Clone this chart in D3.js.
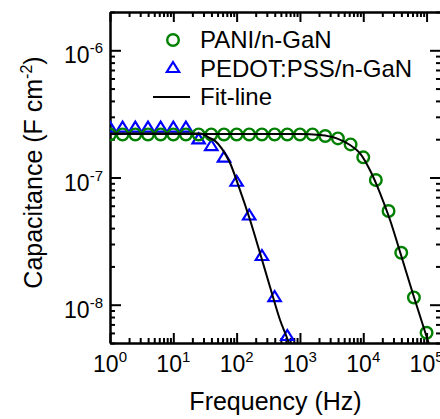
<!DOCTYPE html>
<html>
<head>
<meta charset="utf-8">
<script src="https://cdn.jsdelivr.net/npm/d3@7"></script>
<style>
  body { margin: 0; background: #fff; }
  svg { display: block; font-family: "Liberation Sans", Arial, sans-serif; }
</style>
</head>
<body>
<div id="chart"></div>
<script>
// PANI/n-GaN measured points
const paniFreq = [1, 1.58, 2.51, 3.98, 6.31, 10, 15.8, 25.1, 39.8, 63.1, 100, 158, 251, 398, 631,
                  1000, 1580, 2510, 3980, 6310, 10000, 15800, 25100, 39800, 63100, 100000];
const paniCap = [2.18e-7, 2.18e-7, 2.18e-7, 2.18e-7, 2.18e-7, 2.18e-7, 2.18e-7, 2.18e-7, 2.18e-7,
                 2.18e-7, 2.18e-7, 2.18e-7, 2.18e-7, 2.18e-7, 2.18e-7, 2.18e-7, 2.18e-7,
                 2.12e-7, 2.03e-7, 1.82e-7, 1.44e-7, 9.55e-8, 5.45e-8, 2.56e-8, 1.14e-8, 6.02e-9];

// PEDOT:PSS/n-GaN measured points
const pedotFreq = [1, 1.58, 2.51, 3.98, 6.31, 10, 15.8, 25.1, 39.8, 63.1, 100, 158, 251, 398, 631];
const pedotCap = [2.51e-7, 2.51e-7, 2.51e-7, 2.51e-7, 2.51e-7, 2.51e-7, 2.51e-7,
                  2.03e-7, 1.80e-7, 1.46e-7, 9.43e-8, 5.12e-8, 2.46e-8, 1.17e-8, 5.78e-9];

// fit lines
const fitPaniFreq = [1, 1000, 2080, 3810, 6180, 8900, 12800, 18400, 26500, 38100, 61200, 98200, 136000];
const fitPaniCap = [2.20e-7, 2.20e-7, 2.16e-7, 2.03e-7, 1.80e-7, 1.55e-7, 1.14e-7, 7.55e-8,
                    4.63e-8, 2.60e-8, 1.21e-8, 5.78e-9, 3.48e-9];
const fitPedotFreq = [1, 26.4, 31.6, 38, 45.6, 58.8, 78.7, 106, 163, 234, 337, 485, 656, 800];
const fitPedotCap = [2.22e-7, 2.22e-7, 2.15e-7, 2.04e-7, 1.94e-7, 1.68e-7, 1.30e-7, 8.72e-8,
                     4.63e-8, 2.55e-8, 1.38e-8, 7.58e-9, 5.12e-9, 3.67e-9];

const xMajor = [0, 1, 2, 3, 4, 5];
const yMajor = [-8, -7, -6];
const legendLabels = ["PANI/n-GaN", "PEDOT:PSS/n-GaN", "Fit-line"];

const svgWidth = 440, svgHeight = 419;
const margin = { top: 12, right: -1, bottom: 76, left: 110 };
const width = svgWidth - margin.left - margin.right;
const height = svgHeight - margin.top - margin.bottom;

const green = "#008000", blue = "#0000ff";

const svg = d3.select("#chart").append("svg")
    .attr("width", svgWidth)
    .attr("height", svgHeight);

const chart = svg.append("g")
    .attr("transform", `translate(${margin.left},${margin.top})`);

const x = d3.scaleLog().domain([1, 1.69e5]).range([0, width]);
const y = d3.scaleLog().domain([5e-9, 2e-6]).range([height, 0]);

// minor tick values
const xMinor = [];
xMajor.forEach(k => d3.range(2, 10).forEach(m => {
    const v = m * Math.pow(10, k);
    if (v <= x.domain()[1]) xMinor.push(v);
}));
const yMinor = [];
[-9, -8, -7, -6].forEach(k => d3.range(2, 10).forEach(m => {
    const v = m * Math.pow(10, k);
    if (v >= y.domain()[0] && v <= y.domain()[1]) yMinor.push(v);
}));
const xMajorVals = xMajor.map(k => Math.pow(10, k));
const yMajorVals = yMajor.map(k => Math.pow(10, k));

function styleAxis(g) {
    g.selectAll("path").attr("stroke", "#000").attr("stroke-width", 2);
    g.selectAll("line").attr("stroke", "#000").attr("stroke-width", 2);
    g.selectAll("text").remove();
}

// bottom / top
[[d3.axisBottom, height], [d3.axisTop, 0]].forEach(function([ax, ty]) {
    chart.append("g").attr("transform", `translate(0,${ty})`)
        .call(ax(x).tickValues(xMajorVals).tickSizeInner(-10).tickSizeOuter(0).tickFormat(""))
        .call(styleAxis);
    chart.append("g").attr("transform", `translate(0,${ty})`)
        .call(ax(x).tickValues(xMinor).tickSizeInner(-5).tickSizeOuter(0).tickFormat(""))
        .call(styleAxis);
});
// left / right
[[d3.axisLeft, 0], [d3.axisRight, width]].forEach(function([ax, tx]) {
    chart.append("g").attr("transform", `translate(${tx},0)`)
        .call(ax(y).tickValues(yMajorVals).tickSizeInner(-11).tickSizeOuter(0).tickFormat(""))
        .call(styleAxis);
    chart.append("g").attr("transform", `translate(${tx},0)`)
        .call(ax(y).tickValues(yMinor).tickSizeInner(-5).tickSizeOuter(0).tickFormat(""))
        .call(styleAxis);
});

// tick labels
xMajor.forEach(function(k) {
    const t = chart.append("text")
        .attr("x", x(Math.pow(10, k)))
        .attr("y", height + 29)
        .attr("text-anchor", "middle")
        .attr("font-size", "23px");
    t.append("tspan").text("10");
    t.append("tspan").attr("dy", -10).attr("font-size", "15px").text(k);
});
yMajor.forEach(function(k) {
    const t = chart.append("text")
        .attr("x", -7)
        .attr("y", y(Math.pow(10, k)) + 13)
        .attr("text-anchor", "end")
        .attr("font-size", "23px");
    t.append("tspan").text("10");
    t.append("tspan").attr("dy", -10).attr("font-size", "15px").text(k);
});

// axis titles
chart.append("text")
    .attr("x", width / 2)
    .attr("y", height + 67)
    .attr("text-anchor", "middle")
    .attr("font-size", "25px")
    .text("Frequency (Hz)");

const yt = chart.append("text")
    .attr("transform", "rotate(-90)")
    .attr("x", -(height / 2) + 5)
    .attr("y", -68)
    .attr("text-anchor", "middle")
    .attr("font-size", "25px");
yt.append("tspan").text("Capacitance (F cm");
yt.append("tspan").attr("dy", -10).attr("font-size", "16px").text("-2");
yt.append("tspan").attr("dy", 10).text(")");

// plot
chart.append("clipPath").attr("id", "clip")
    .append("rect").attr("width", width).attr("height", height);
const plot = chart.append("g").attr("clip-path", "url(#clip)");

function triPath(cx, cy) {
    const w = 6.2, h = 5;
    return `M${cx},${cy - h}L${cx + w},${cy + h}L${cx - w},${cy + h}Z`;
}

plot.selectAll(".tri")
    .data(pedotFreq.map((f, i) => [f, pedotCap[i]]))
    .join("path")
    .attr("d", d => triPath(x(d[0]), y(d[1])))
    .attr("fill", "none")
    .attr("stroke", blue)
    .attr("stroke-width", 2.2);

plot.selectAll(".circ")
    .data(paniFreq.map((f, i) => [f, paniCap[i]]))
    .join("circle")
    .attr("cx", d => x(d[0]))
    .attr("cy", d => y(d[1]))
    .attr("r", 5.8)
    .attr("fill", "none")
    .attr("stroke", green)
    .attr("stroke-width", 2.4);

const line = d3.line()
    .x(d => x(d[0]))
    .y(d => y(d[1]))
    .curve(d3.curveMonotoneX);

plot.append("path")
    .datum(fitPaniFreq.map((f, i) => [f, fitPaniCap[i]]))
    .attr("fill", "none").attr("stroke", "#000").attr("stroke-width", 2)
    .attr("d", line);
plot.append("path")
    .datum(fitPedotFreq.map((f, i) => [f, fitPedotCap[i]]))
    .attr("fill", "none").attr("stroke", "#000").attr("stroke-width", 2)
    .attr("d", line);

// legend
const lg = svg.append("g");
lg.append("circle").attr("cx", 173).attr("cy", 40).attr("r", 5.8)
    .attr("fill", "none").attr("stroke", green).attr("stroke-width", 2.4);
lg.append("path").attr("d", triPath(173, 67))
    .attr("fill", "none").attr("stroke", blue).attr("stroke-width", 2.2);
lg.append("line").attr("x1", 153).attr("x2", 190).attr("y1", 97).attr("y2", 97)
    .attr("stroke", "#000").attr("stroke-width", 2);
legendLabels.forEach(function(t, i) {
    lg.append("text")
        .attr("x", 200)
        .attr("y", [48, 77, 105][i])
        .attr("font-size", "24px")
        .text(t);
});
</script>
</body>
</html>
